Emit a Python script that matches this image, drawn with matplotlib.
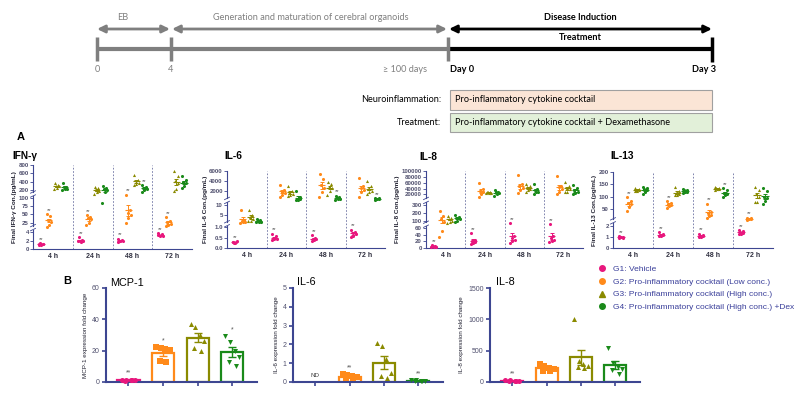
import numpy as np
import matplotlib
matplotlib.use('Agg')
import matplotlib.pyplot as plt
from matplotlib.patches import Rectangle
from matplotlib.lines import Line2D

W, H = 800, 395
plt.rcParams['font.family'] = ['Liberation Sans', 'DejaVu Sans']

NAVY = '#3d4691'
TICK_TXT = '#50506e'
LEG_TXT = '#3a3f9a'
GRAY = '#7f7f7f'
COLORS = ['#e8177d', '#ff8a1a', '#8a8a00', '#1a8a1a']
MARKERS_A = ['o', 'o', '^', 'o']
MARKERS_B = ['o', 's', '^', 'v']

TIMES = ['4 h', '24 h', '48 h', '72 h']
GROUP_LABELS = ['G1: Vehicle',
                'G2: Pro-inflammatory cocktail (Low conc.)',
                'G3: Pro-inflammatory cocktail (High conc.)',
                'G4: Pro-inflammatory cocktail (High conc.) +Dex']

# ---- Panel A: secreted cytokines (pg/mL), one list per time point ----
IFNG_G1 = [[1.0, 1.2, 1.4, 1.1, 0.9, 1.3], [2.8, 2.1, 1.9, 1.8, 1.7, 2.0],
           [2.4, 2.1, 2.0, 1.9, 1.8, 1.7], [3.7, 3.5, 3.3, 3.2, 3.0, 3.4]]
IFNG_G2 = [[50, 45, 32, 27, 20, 16], [48, 43, 38, 35, 24, 20],
           [140, 62, 55, 48, 40, 25], [41, 30, 26, 21, 19, 17]]
IFNG_G3 = [[360, 320, 300, 290, 250, 230], [280, 250, 210, 190, 170, 150],
           [560, 440, 400, 370, 350, 330], [650, 540, 420, 380, 220, 190]]
IFNG_G4 = [[380, 280, 270, 240, 220, 200], [290, 260, 230, 200, 170, 85],
           [320, 280, 260, 230, 200, 170], [540, 440, 400, 370, 290, 250]]
IFNG_STARS = [(0, 0), (0, 1), (0, 2), (0, 3), (1, 0), (1, 1), (1, 2), (1, 3), (3, 2)]

IL6_G1 = [[0.3, 0.28, 0.26, 0.32, 0.25, 0.3], [0.7, 0.6, 0.5, 0.45, 0.42, 0.4],
          [0.62, 0.5, 0.45, 0.42, 0.38, 0.35], [0.9, 0.8, 0.72, 0.68, 0.6, 0.55]]
IL6_G2 = [[7.5, 3.5, 3.0, 2.8, 2.6, 2.4], [3200, 2100, 1900, 1700, 1400, 1200],
          [5400, 4300, 3200, 2600, 1900, 1200], [4500, 3000, 2500, 2100, 1800, 1200]]
IL6_G3 = [[7.5, 5.0, 4.2, 3.6, 3.2, 3.0], [2900, 2000, 1700, 1600, 1400, 1300],
          [3800, 3300, 2800, 2500, 2000, 1400], [3900, 3000, 2400, 2000, 1800, 1600]]
IL6_G4 = [[3.6, 3.3, 3.0, 2.9, 2.8, 2.6], [2000, 1100, 900, 800, 750, 700],
          [1300, 1100, 1000, 900, 800, 750], [1000, 950, 900, 850, 800, 750]]
IL6_STARS = [(0, 0), (0, 1), (0, 2), (0, 3), (3, 2), (3, 3)]

IL8_G1 = [[8, 6, 5, 4, 3, 2], [45, 25, 20, 18, 15, 13],
          [85, 35, 30, 25, 20, 15], [82, 35, 30, 25, 22, 18]]
IL8_G2 = [[220, 165, 120, 95, 50, 32], [60000, 38000, 32000, 28000, 22000, 15000],
          [86000, 55000, 48000, 42000, 35000, 25000], [82000, 50000, 45000, 40000, 30000, 22000]]
IL8_G3 = [[165, 130, 115, 100, 90, 85], [30000, 28000, 27000, 26000, 25000, 24000],
          [55000, 48000, 45000, 40000, 35000, 30000], [62000, 48000, 42000, 38000, 30000, 27000]]
IL8_G4 = [[175, 150, 130, 115, 100, 95], [35000, 30000, 27000, 24000, 20000, 17000],
          [55000, 40000, 35000, 30000, 27000, 22000], [52000, 42000, 35000, 30000, 25000, 20000]]
IL8_STARS = [(0, 0), (0, 1), (0, 2), (0, 3)]

IL13_G1 = [[1.05, 1.0, 0.95, 0.92, 1.0, 0.9], [1.4, 1.3, 1.2, 1.15, 1.1, 1.05],
           [1.3, 1.15, 1.1, 1.05, 1.0, 0.95], [1.6, 1.5, 1.4, 1.35, 1.3, 1.25]]
IL13_G2 = [[98, 82, 75, 68, 58, 45], [82, 75, 70, 66, 60, 52],
           [70, 42, 38, 33, 30, 25], [25, 23, 22, 21, 20, 19]]
IL13_G3 = [[133, 130, 128, 126, 124, 122], [138, 122, 115, 110, 108, 105],
           [138, 135, 133, 131, 130, 128], [140, 125, 110, 100, 78, 77]]
IL13_G4 = [[140, 135, 130, 125, 118, 112], [132, 128, 125, 120, 118, 115],
           [135, 125, 115, 110, 105, 100], [135, 122, 100, 95, 80, 70]]
IL13_STARS = [(0, 0), (0, 1), (0, 2), (0, 3), (1, 0), (1, 1), (1, 2), (1, 3), (3, 2)]

# broken axis anchors (value -> axis units), ticks and break values
IFNG_ANCH = ([0, 4, 25, 100, 200, 800], [0, 2, 3.15, 6.1, 7, 10])
IFNG_TICKS = [0, 2, 4, 25, 50, 75, 100, 200, 400, 600, 800]
IFNG_BREAKS = [14, 150]
IL6_ANCH = ([0, 1, 5, 10, 2000, 6000], [0, 2.07, 3.33, 4.33, 5.77, 7.77])
IL6_TICKS = [0, 0.5, 1.0, 5, 10, 2000, 4000, 6000]
IL6_TICKLABELS = ['0.0', '0.5', '1.0', '5', '10', '2000', '4000', '6000']
IL6_BREAKS = [2.2, 660]
IL8_ANCH = ([0, 60, 100, 300, 20000, 100000], [0, 6, 8.3, 13.0, 16.2, 23.3])
IL8_TICKS = [0, 20, 40, 60, 100, 200, 300, 20000, 40000, 60000, 80000, 100000]
IL8_BREAKS = [81, 8900]
IL13_ANCH = ([0, 2, 50, 200], [0, 6.7, 11.8, 22.9])
IL13_TICKS = [0, 1, 2, 50, 100, 150, 200]
IL13_BREAKS = [16]

# ---- Panel B: qPCR fold change ----
MCP1_B = [[1.5, 1.2, 1.0, 1.3, 0.9, 1.1], [22.5, 21.5, 21, 20.5, 13.5, 12.8],
          [37, 35, 30, 26, 22, 20], [29.5, 25.5, 20, 16, 13, 10]]
MCP1_STARS = ['**', '*', '', '*']
IL6_B = [None, [0.4, 0.35, 0.3, 0.25, 0.2, 0.2],
         [2.1, 1.9, 1.2, 0.5, 0.3, 0.2], [0.1, 0.08, 0.07, 0.06, 0.05, 0.05]]
IL6_B_STARS = ['', '**', '', '**']
IL8_B = [[30, 25, 20, 18, 15, 12], [280, 260, 220, 200, 180, 170],
         [1010, 340, 290, 250, 240, 230], [550, 310, 240, 210, 190, 120]]
IL8_B_STARS = ['**', '', '', '']

OFFS = [-0.3, -0.1, 0.1, 0.3]
JIT_A = np.array([-0.05, 0.04, -0.02, 0.06, 0.0, -0.06])
JIT_B = np.array([-0.2, -0.07, 0.07, 0.2, -0.1, 0.1])


def add_ax(left, top, right, bottom):
    return fig.add_axes([left / W, 1 - bottom / H, (right - left) / W, (bottom - top) / H])


def interp_ext(x, xp, fp):
    x = np.asarray(x, float)
    xp = np.asarray(xp, float)
    fp = np.asarray(fp, float)
    y = np.interp(x, xp, fp)
    y = np.where(x < xp[0], fp[0] + (x - xp[0]) * (fp[1] - fp[0]) / (xp[1] - xp[0]), y)
    y = np.where(x > xp[-1], fp[-1] + (x - xp[-1]) * (fp[-1] - fp[-2]) / (xp[-1] - xp[-2]), y)
    return y


fig = plt.figure(figsize=(8, 3.95), dpi=100)
bg = fig.add_axes([0, 0, 1, 1])
bg.set_xlim(0, W)
bg.set_ylim(H, 0)
bg.axis('off')

# ---- timeline ----
TL = ['Lato', 'DejaVu Sans']
TFS = 6.6
bg.plot([97, 448], [49, 49], color=GRAY, lw=3, solid_capstyle='butt')
bg.plot([448, 712], [49, 49], color='black', lw=3, solid_capstyle='butt')
for x in [97, 171, 448]:
    bg.plot([x, x], [37, 61], color=GRAY, lw=2.5, solid_capstyle='butt')
bg.plot([712, 712], [37, 62], color='black', lw=2.5, solid_capstyle='butt')
for x0, x1, c in [(97, 170, GRAY), (172, 447, GRAY), (449, 712, 'black')]:
    bg.annotate('', xy=(x1, 29), xytext=(x0, 29),
                arrowprops=dict(arrowstyle='<|-|>,head_length=0.45,head_width=0.22',
                                color=c, lw=2, shrinkA=0, shrinkB=0))
bg.text(123, 18, 'EB', ha='center', va='center', fontsize=TFS, color=GRAY, family=TL)
bg.text(311, 18, 'Generation and maturation of cerebral organoids', ha='center', va='center',
        fontsize=TFS, color=GRAY, family=TL)
bg.text(580, 18, 'Disease Induction', ha='center', va='center', fontsize=TFS,
        fontweight='bold', family=TL)
bg.text(580, 38, 'Treatment', ha='center', va='center', fontsize=TFS, fontweight='bold', family=TL)
bg.text(97, 70, '0', ha='center', va='center', fontsize=TFS, color=GRAY, family=TL)
bg.text(171, 70, '4', ha='center', va='center', fontsize=TFS, color=GRAY, family=TL)
bg.text(405, 70, '≥ 100 days', ha='center', va='center', fontsize=TFS, color=GRAY, family=TL)
bg.text(462, 70, 'Day 0', ha='center', va='center', fontsize=TFS, fontweight='bold', family=TL)
bg.text(704, 70, 'Day 3', ha='center', va='center', fontsize=TFS, fontweight='bold', family=TL)

bg.add_patch(Rectangle((450, 90), 262, 20, fc='#fbe5d6', ec='#a0a0a0', lw=0.8))
bg.add_patch(Rectangle((450, 113), 262, 19, fc='#e2f0d9', ec='#a0a0a0', lw=0.8))
bg.text(441, 100, 'Neuroinflammation:', ha='right', va='center', fontsize=TFS, family=TL)
bg.text(441, 122.5, 'Treatment:', ha='right', va='center', fontsize=TFS, family=TL)
bg.text(455, 100, 'Pro-inflammatory cytokine cocktail', ha='left', va='center',
        fontsize=TFS, family=TL)
bg.text(455, 122.5, 'Pro-inflammatory cytokine cocktail + Dexamethasone', ha='left',
        va='center', fontsize=TFS, family=TL)

bg.text(21, 137, 'A', ha='center', va='center', fontsize=8, fontweight='bold')
bg.text(67, 281, 'B', ha='center', va='center', fontsize=8, fontweight='bold')


def draw_cytokine(box, title, title_pos, ylabel, groups, anch, ticks, ticklabels, breaks, stars):
    ax = add_ax(*box)
    av, au = anch
    ax.set_yscale('function', functions=(lambda y: interp_ext(y, av, au),
                                         lambda u: interp_ext(u, au, av)))
    ax.set_ylim(0, ticks[-1])
    ax.set_xlim(-0.5, 3.5)
    for g, data in enumerate(groups):
        for t, pts in enumerate(data):
            pts = np.array(pts, float)
            xc = t + OFFS[g]
            ax.scatter(xc + JIT_A[:len(pts)], pts, s=5, marker=MARKERS_A[g],
                       color=COLORS[g], lw=0, zorder=3, clip_on=False)
            m = pts.mean()
            se = pts.std(ddof=1) / np.sqrt(len(pts))
            ax.hlines(m, xc - 0.09, xc + 0.09, color=COLORS[g], lw=0.8, zorder=4)
            ax.errorbar(xc, m, yerr=se, fmt='none', ecolor=COLORS[g], elinewidth=0.7,
                        capsize=1.3, capthick=0.7, zorder=4)
    for g, t in stars:
        top = max(groups[g][t])
        ax.annotate('**', (t + OFFS[g], top), xytext=(0, 1), textcoords='offset points',
                    ha='center', va='bottom', fontsize=4.2, color='#555555')
    for i in range(3):
        ax.axvline(i + 0.5, color='#6a6fa0', lw=0.6, ls=(0, (2, 2)))
    ax.set_yticks(ticks)
    ax.set_yticklabels(ticklabels if ticklabels else [str(v) for v in ticks])
    ax.yaxis.set_minor_locator(plt.NullLocator())
    ax.set_xticks(range(4))
    ax.set_xticklabels(TIMES, fontweight='bold', fontsize=5, color='#303040')
    ax.tick_params(axis='x', length=0, pad=3)
    ax.tick_params(axis='y', length=2, width=0.6, color=NAVY, labelsize=4.4,
                   labelcolor=TICK_TXT, pad=1)
    for lab in ax.get_yticklabels():
        lab.set_fontweight('bold')
    for s in ['top', 'right', 'left']:
        ax.spines[s].set_visible(False)
    ax.spines['bottom'].set_color(NAVY)
    ax.spines['bottom'].set_linewidth(0.8)
    # broken left spine
    fwd = lambda y: float(interp_ext(y, av, au))
    u0, u1 = fwd(0), fwd(ticks[-1])
    hpx = box[3] - box[1]
    wpx = box[2] - box[0]
    gap = 2.0 / hpx
    fr = [(fwd(b) - u0) / (u1 - u0) for b in breaks]
    edges = [0] + [e for f in fr for e in (f - gap, f + gap)] + [1]
    for a, b in zip(edges[::2], edges[1::2]):
        ax.plot([0, 0], [a, b], transform=ax.transAxes, color=NAVY, lw=0.8, clip_on=False)
    dx, dy = 2.5 / wpx, 1.2 / hpx
    for e in edges[1:-1]:
        ax.plot([-dx, dx], [e - dy, e + dy], transform=ax.transAxes, color=NAVY, lw=0.6,
                clip_on=False)
    ax.set_ylabel(ylabel, fontsize=4.6, fontweight='bold', labelpad=1, color='#202030')
    bg.text(title_pos[0], title_pos[1], title, ha='left', va='center', fontsize=7.3,
            fontweight='bold')
    return ax


draw_cytokine((33, 165, 192, 249), 'IFN-γ', (12, 156), 'Final IFN-γ Con.(pg/mL)',
              [IFNG_G1, IFNG_G2, IFNG_G3, IFNG_G4], IFNG_ANCH, IFNG_TICKS, None,
              IFNG_BREAKS, IFNG_STARS)
draw_cytokine((227, 171, 385, 248), 'IL-6', (224, 156), 'Final IL-6 Con.(pg/mL)',
              [IL6_G1, IL6_G2, IL6_G3, IL6_G4], IL6_ANCH, IL6_TICKS, IL6_TICKLABELS,
              IL6_BREAKS, IL6_STARS)
draw_cytokine((426, 171, 583, 248), 'IL-8', (419, 157), 'Final IL-8 Con.(pg/mL)',
              [IL8_G1, IL8_G2, IL8_G3, IL8_G4], IL8_ANCH, IL8_TICKS, None,
              IL8_BREAKS, IL8_STARS)
draw_cytokine((613, 172, 773, 248), 'IL-13', (610, 156), 'Final IL-13 Con.(pg/mL)',
              [IL13_G1, IL13_G2, IL13_G3, IL13_G4], IL13_ANCH, IL13_TICKS, None,
              IL13_BREAKS, IL13_STARS)


def draw_bars(box, title, title_pos, ylabel, data, ymax, yticks, stars):
    ax = add_ax(*box)
    ax.set_xlim(-0.65, 3.72)
    ax.set_ylim(0, ymax)
    for g, pts in enumerate(data):
        if pts is None:
            ax.annotate('ND', (g, 0), xytext=(0, 3), textcoords='offset points',
                        ha='center', va='bottom', fontsize=4.5, color='#404040')
            continue
        pts = np.array(pts, float)
        m = pts.mean()
        se = pts.std(ddof=1) / np.sqrt(len(pts))
        ax.bar(g, m, width=0.64, fill=False, edgecolor=COLORS[g], lw=1.6, zorder=2)
        ax.errorbar(g, m, yerr=se, fmt='none', ecolor=COLORS[g], elinewidth=1.0,
                    capsize=3, capthick=1.0, zorder=3)
        ax.scatter(g + JIT_B[:len(pts)], pts, s=13, marker=MARKERS_B[g], color=COLORS[g],
                   lw=0, zorder=4, clip_on=False)
        if stars[g]:
            ax.annotate(stars[g], (g, pts.max()), xytext=(0, 2), textcoords='offset points',
                        ha='center', va='bottom', fontsize=5, color='#555555')
    ax.set_yticks(yticks)
    ax.set_xticks(range(4))
    ax.set_xticklabels([])
    ax.tick_params(axis='both', length=3, width=1.2, color=NAVY, labelsize=5,
                   labelcolor=TICK_TXT, pad=1.5)
    for s in ['top', 'right']:
        ax.spines[s].set_visible(False)
    for s in ['left', 'bottom']:
        ax.spines[s].set_color(NAVY)
        ax.spines[s].set_linewidth(1.5)
    ax.set_ylabel(ylabel, fontsize=4.5, labelpad=3, color='#202030')
    bg.text(title_pos[0], title_pos[1], title, ha='left', va='center', fontsize=7.8)
    return ax


draw_bars((106, 288, 257, 382), 'MCP-1', (110, 283), 'MCP-1 expression fold change',
          MCP1_B, 60, [0, 20, 40, 60], MCP1_STARS)
draw_bars((293, 288, 443, 382), 'IL-6', (297, 282), 'IL-6 expression fold change',
          IL6_B, 5, [0, 1, 2, 3, 4, 5], IL6_B_STARS)
draw_bars((490, 288, 640, 382), 'IL-8', (496, 282), 'IL-8 expression fold change',
          IL8_B, 1500, [0, 500, 1000, 1500], IL8_B_STARS)

handles = [Line2D([], [], ls='none', marker=m, color=c, ms=4)
           for m, c in zip(['o', 'o', '^', 'o'], COLORS)]
fig.legend(handles, GROUP_LABELS, loc='upper left', bbox_to_anchor=(598 / W, 1 - 265 / H),
           frameon=False, fontsize=6, labelcolor=LEG_TXT, handletextpad=0.8,
           labelspacing=0.6, handlelength=1.0, borderaxespad=0, borderpad=0)

fig.savefig('out.png', dpi=100)
